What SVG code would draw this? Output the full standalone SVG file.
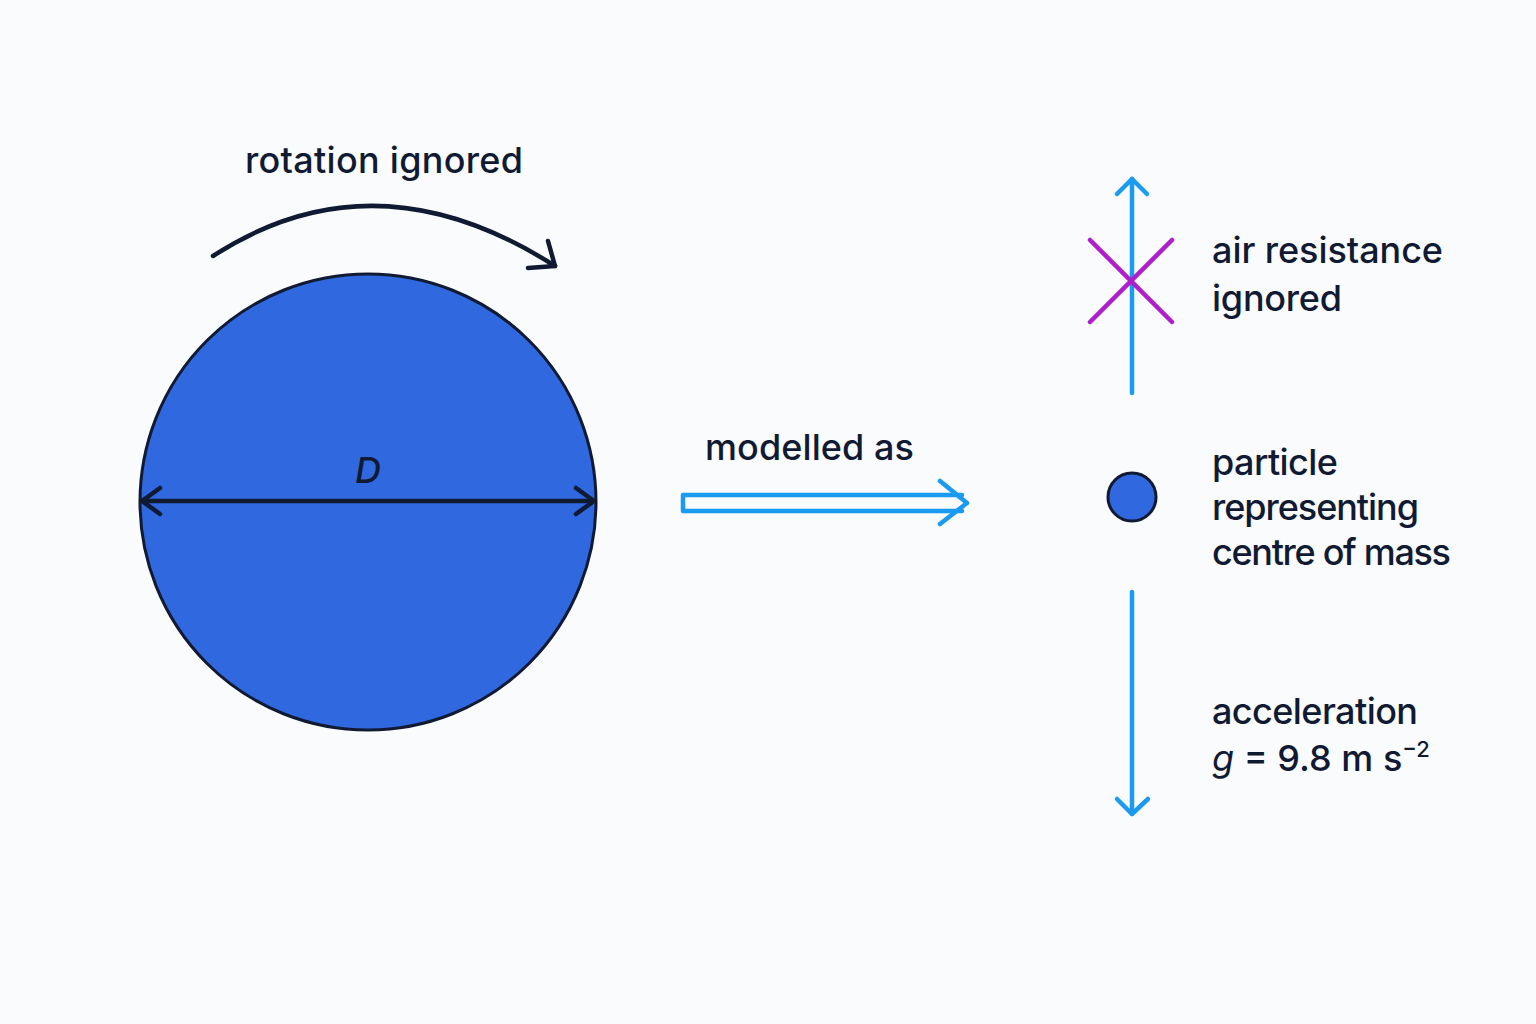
<svg xmlns="http://www.w3.org/2000/svg" width="1536" height="1024" viewBox="0 0 1536 1024">
<style>
.t{font-family:Inter,"Noto Sans","Liberation Sans",sans-serif;font-size:36px;font-weight:500;fill:#111a33}
.dk{fill:none;stroke:#111a33;stroke-width:4.5;stroke-linecap:round;stroke-linejoin:round}
.bl{fill:none;stroke:#1a9af0;stroke-width:4.5;stroke-linecap:round;stroke-linejoin:round}
</style>
<rect width="1536" height="1024" fill="#fafbfc"/>
<g id="rotation">
<text class="t" x="245" y="173" textLength="278" lengthAdjust="spacing">rotation ignored</text>
<path class="dk" d="M213,256 Q375,151 555,266"/>
<path class="dk" d="M548,241 L555,266 L528,268"/>
</g>
<g id="body">
<circle cx="368" cy="502" r="228" fill="#3068e0" stroke="#111a33" stroke-width="3"/>
<line class="dk" x1="142" y1="501" x2="594" y2="501"/>
<path class="dk" d="M160,488 L142,501 L160,514 M576,488 L594,501 L576,514"/>
<text class="t" x="368" y="483" text-anchor="middle" font-style="italic" font-weight="400">D</text>
</g>
<g id="connectors">
<text class="t" x="705" y="460" textLength="209" lengthAdjust="spacing">modelled as</text>
<path class="bl" d="M683,495 H962 M683,511 H962 M683,495 V511"/>
<path class="bl" d="M940,481 L967,503 L940,524"/>
</g>
<g id="air-resistance">
<line class="bl" x1="1132" y1="179" x2="1132" y2="393"/>
<path class="bl" d="M1117,194 L1132,179 L1147,194"/>
<path d="M1090,240 L1172,322 M1172,240 L1090,322" stroke="#b01ecc" stroke-width="4.5" stroke-linecap="round" fill="none"/>
<text class="t" x="1212" y="263" textLength="231" lengthAdjust="spacing">air resistance</text>
<text class="t" x="1212" y="311" textLength="130" lengthAdjust="spacing">ignored</text>
</g>
<g id="particle">
<circle cx="1132" cy="497" r="24" fill="#3068e0" stroke="#111a33" stroke-width="3"/>
<text class="t" x="1212" y="475" textLength="126" lengthAdjust="spacing">particle</text>
<text class="t" x="1212" y="520" textLength="207" lengthAdjust="spacing">representing</text>
<text class="t" x="1212" y="565" textLength="239" lengthAdjust="spacing">centre of mass</text>
</g>
<g id="acceleration">
<line class="bl" x1="1132" y1="592" x2="1132" y2="814"/>
<path class="bl" d="M1117,799 L1132,814 L1148,799"/>
<text class="t" x="1212" y="724" textLength="206" lengthAdjust="spacing">acceleration</text>
<text class="t" x="1212" y="771"><tspan font-style="italic" font-weight="400">g</tspan> = 9.8 m s<tspan font-size="22" dy="-14">−2</tspan></text>
</g>
</svg>
